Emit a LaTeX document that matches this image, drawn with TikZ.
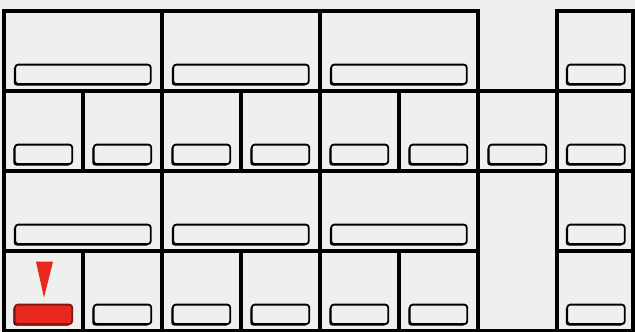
\documentclass[tikz,border=0pt]{standalone}
\usepackage{xcolor}
\usetikzlibrary{positioning, shadows, calc}
\definecolor{panelgray}{HTML}{EEF0EE}
\definecolor{markred}{HTML}{E8281E}

\begin{document}
\begin{tikzpicture}[
      x=1pt, y=-1pt,
      cell/.style={draw, line width=3.2pt, fill=panelgray, anchor=north west,
        inner sep=0pt, outer sep=0pt, minimum height=80pt},
      halfcell/.style={cell, minimum width=79pt},
      widecell/.style={cell, minimum width=158pt},
      pull/.style={draw, line width=1.8pt, rounded corners=3pt, fill=panelgray,
        inner sep=0pt, anchor=south, minimum height=19.5pt,
        drop shadow={shadow xshift=-1.5pt, shadow yshift=-1.5pt, fill=black, opacity=1}},
      shortpull/.style={pull, minimum width=57.5pt},
      longpull/.style={pull, minimum width=135.5pt},
    ]
    \useasboundingbox[fill=panelgray] (0,0) rectangle (635,332);

    % wide drawers, rows 1 and 3
    \foreach \r/\y in {1/11, 3/171} {
      \foreach \c in {0,1,2} {
        \node[widecell] (w\r\c) at (4+158*\c, \y) {};
        \node[longpull] (lp\r\c) at ([yshift=6pt]w\r\c.south) {};
      }
    }

    % small drawers, row 2
    \foreach \c in {0,...,6} {
      \node[halfcell] (s2\c) at (4+79*\c, 91) {};
      \node[shortpull] (sp2\c) at ([yshift=6pt]s2\c.south) {};
    }

    % small drawers, row 4
    \foreach \c in {1,...,5} {
      \node[halfcell] (s4\c) at (4+79*\c, 251) {};
      \node[shortpull] (sp4\c) at ([yshift=6pt]s4\c.south) {};
    }
    \node[halfcell] (s40) at (4, 251) {};
    \node[shortpull, fill=markred, draw=markred!55!black] (red) at ([yshift=6pt]s40.south) {};
    \fill[markred] ($(red.north)+(-7.5,-42)$) -- ($(red.north)+(9.5,-42)$)
      -- ($(red.north)+(0.5,-6)$) -- cycle;

    % open column below
    \node[cell, minimum width=79pt, minimum height=160pt] (gap) at (478, 171) {};

    % right-hand column
    \foreach \r in {0,...,3} {
      \node[cell, minimum width=76pt] (rc\r) at (557, 11+80*\r) {};
      \node[shortpull, xshift=1pt] (rp\r) at ([yshift=6pt]rc\r.south) {};
    }
  \end{tikzpicture}
\end{document}
